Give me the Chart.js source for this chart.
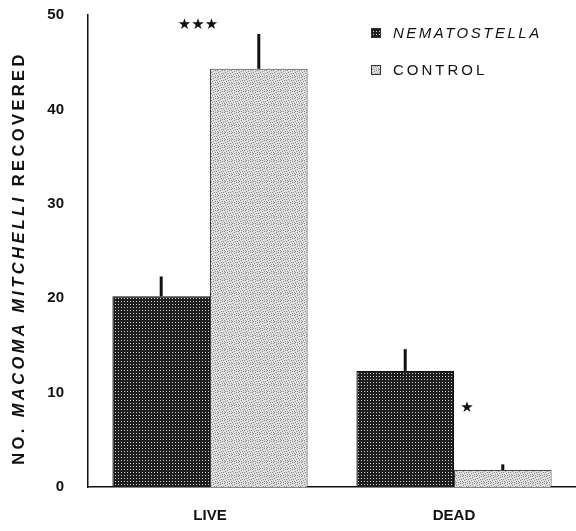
<!DOCTYPE html>
<html>
<head>
<meta charset="utf-8">
<script src="https://cdn.jsdelivr.net/npm/chart.js@4"></script>
<style>
  html, body { margin: 0; padding: 0; background: #fff; }
  #wrap { width: 576px; height: 531px; }
</style>
</head>
<body>
<div id="wrap"><canvas id="barChart" width="576" height="531"></canvas></div>
<script>
// datos
var categorias = ['LIVE', 'DEAD'];
var nematostella = [20.2, 12.3];
var control = [44.3, 1.8];
var errNematostella = [2.1, 2.3];
var errControl = [3.7, 0.6];
var significancia = ['***', '*'];
var ticksY = [0, 10, 20, 30, 40, 50];

// patrones de relleno (punteado oscuro y claro)
function patronOscuro() {
    var c = document.createElement('canvas');
    c.width = 3; c.height = 3;
    var g = c.getContext('2d');
    g.fillStyle = '#1e1e1e';
    g.fillRect(0, 0, 3, 3);
    g.fillStyle = '#d0d0d0';
    g.fillRect(1, 1, 1, 1);
    return g.createPattern(c, 'repeat');
}
function patronClaro() {
    var c = document.createElement('canvas');
    c.width = 7; c.height = 7;
    var g = c.getContext('2d');
    g.fillStyle = '#dcdcdc';
    g.fillRect(0, 0, 7, 7);
    // puntos dispersos fijos
    var oscuros = [[0, 0], [3, 1], [5, 0], [1, 2], [6, 3], [2, 4], [4, 3], [0, 5], [5, 5], [3, 6], [1, 6]];
    g.fillStyle = '#8c8c8c';
    oscuros.forEach(function (p) { g.fillRect(p[0], p[1], 1, 1); });
    g.fillStyle = '#f2f2f2';
    [[2, 0], [4, 2], [6, 5], [1, 4], [3, 5]].forEach(function (p) { g.fillRect(p[0], p[1], 1, 1); });
    return g.createPattern(c, 'repeat');
}
var pOscuro = patronOscuro();
var pClaro = patronClaro();

// barras de error, asteriscos, leyenda y título del eje Y
var extras = {
    id: 'extras',
    afterDatasetsDraw: function (chart) {
        var ctx = chart.ctx;
        var y = chart.scales.y;
        var errores = [errNematostella, errControl];
        ctx.save();
        ctx.strokeStyle = '#111';
        ctx.lineWidth = 3;
        chart.data.datasets.forEach(function (ds, i) {
            var meta = chart.getDatasetMeta(i);
            meta.data.forEach(function (bar, j) {
                ctx.beginPath();
                ctx.moveTo(bar.x, y.getPixelForValue(ds.data[j]));
                ctx.lineTo(bar.x, y.getPixelForValue(ds.data[j] + errores[i][j]));
                ctx.stroke();
            });
        });

        // asteriscos de significancia
        ctx.fillStyle = '#111';
        ctx.font = '15px "DejaVu Sans"';
        ctx.textAlign = 'center';
        ctx.textBaseline = 'middle';
        var xs = chart.scales.x;
        var estrellaY = [48.9, 8.4];
        var desplaz = [-12, 13];
        significancia.forEach(function (s, j) {
            var txt = s.replace(/\*/g, '\u2605');
            ctx.fillText(txt, xs.getPixelForValue(j) + desplaz[j], y.getPixelForValue(estrellaY[j]));
        });

        // leyenda
        var items = [
            { texto: 'NEMATOSTELLA', patron: pOscuro, italica: true, y: 33 },
            { texto: 'CONTROL', patron: pClaro, italica: false, y: 70 }
        ];
        ctx.textAlign = 'left';
        items.forEach(function (it) {
            ctx.fillStyle = it.patron;
            ctx.fillRect(371, it.y - 5, 10, 10);
            ctx.strokeStyle = '#333';
            ctx.lineWidth = 1;
            ctx.strokeRect(371.5, it.y - 4.5, 9, 9);
            ctx.fillStyle = '#111';
            ctx.font = (it.italica ? 'italic ' : '') + '15px "Liberation Sans"';
            ctx.letterSpacing = it.italica ? '2.5px' : '3px';
            ctx.fillText(it.texto, 393, it.y + 1);
        });

        // título del eje Y con parte en cursiva
        var partes = [
            { t: 'NO. ', f: 'bold 16.5px "Liberation Sans"' },
            { t: 'MACOMA MITCHELLI', f: 'italic bold 16.5px "Liberation Sans"' },
            { t: ' RECOVERED', f: 'bold 16.5px "Liberation Sans"' }
        ];
        ctx.letterSpacing = '3.4px';
        var total = 0;
        partes.forEach(function (p) { ctx.font = p.f; p.w = ctx.measureText(p.t).width; total += p.w; });
        ctx.translate(19, 258);
        ctx.rotate(-Math.PI / 2);
        var x0 = -total / 2;
        partes.forEach(function (p) {
            ctx.font = p.f;
            ctx.fillText(p.t, x0, 0);
            x0 += p.w;
        });
        ctx.restore();
    }
};

function crearGrafica() {
    var ctx = document.getElementById('barChart').getContext('2d');
    new Chart(ctx, {
        type: 'bar',
        data: {
            labels: categorias,
            datasets: [{
                label: 'NEMATOSTELLA',
                data: nematostella,
                backgroundColor: pOscuro,
                borderColor: '#111',
                borderWidth: 1
            }, {
                label: 'CONTROL',
                data: control,
                backgroundColor: pClaro,
                borderColor: '#444',
                borderWidth: 1
            }]
        },
        options: {
            responsive: false,
            animation: false,
            layout: { padding: { top: 15, right: 0, left: 0, bottom: 0 } },
            datasets: { bar: { categoryPercentage: 0.8, barPercentage: 1.0 } },
            plugins: { legend: { display: false }, tooltip: { enabled: false } },
            scales: {
                x: {
                    grid: { display: false, drawTicks: false },
                    border: { color: '#111', width: 1.5 },
                    ticks: { color: '#111', padding: 20, font: { family: 'Liberation Sans', size: 15, weight: 'bold' } },
                    afterFit: function (s) { s.height = 44; s.paddingLeft = 0; s.paddingRight = 0; }
                },
                y: {
                    min: 0,
                    max: 50,
                    afterBuildTicks: function (s) { s.ticks = ticksY.map(function (v) { return { value: v }; }); },
                    grid: { display: false, drawTicks: false },
                    border: { color: '#111', width: 1.5 },
                    ticks: { color: '#111', padding: 24, font: { family: 'Liberation Sans', size: 15, weight: 'bold' } },
                    afterFit: function (s) { s.width = 88; s.paddingTop = 0; s.paddingBottom = 0; }
                }
            }
        },
        plugins: [extras]
    });
}

crearGrafica();
</script>
</body>
</html>
